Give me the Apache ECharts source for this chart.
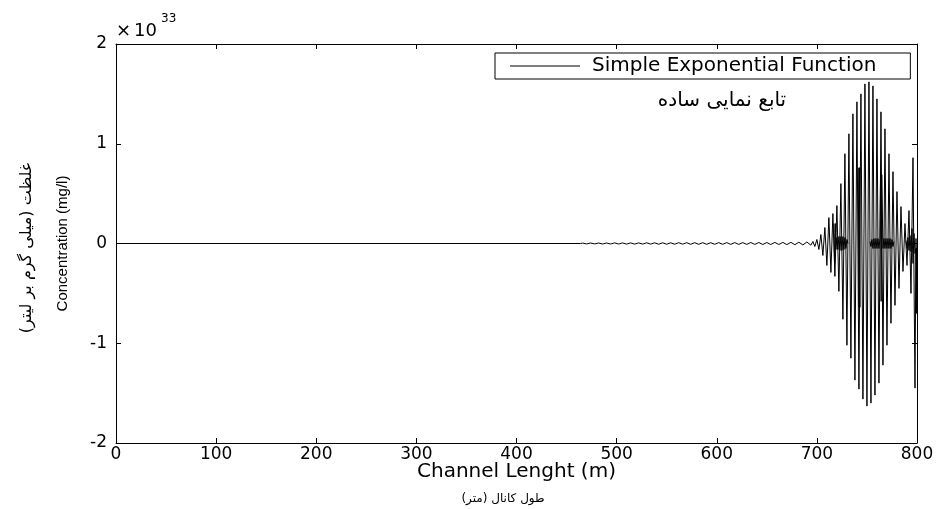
<!DOCTYPE html>
<html>
<head>
<meta charset="utf-8">
<script src="https://cdn.jsdelivr.net/npm/echarts@6/dist/echarts.min.js"></script>
<style>html,body{margin:0;padding:0;background:#fff}#c{width:937px;height:509px}</style>
</head>
<body>
<div id="c"></div>
<script>
// ---- data (concentration in units of 1e33 mg/l, channel length in m) ----
const seriesName = 'Simple Exponential Function';
const xTickValues = [0, 100, 200, 300, 400, 500, 600, 700, 800];
const yTickValues = [-2, -1, 0, 1, 2];

const flatX = [0, 464];
const flatY = [0, 0];

const rippleX = [466,470,474,478,482,486,490,494,498,502,506,510,514,518,522,526,530,534,538,542,546,550,554,558,562,566,570,574,578,582,586,590,594,598,602,606,610,614,618,622,626,630,634,638,642,646,650,654,658,662,666,670,674,678,682,686,690,694];
const rippleY = [0.004,-0.004,0.005,-0.004,0.005,-0.005,0.005,-0.005,0.006,-0.005,
  0.006,-0.006,0.006,-0.006,0.006,-0.006,0.007,-0.006,0.007,-0.007,
  0.007,-0.007,0.007,-0.007,0.008,-0.007,0.008,-0.008,0.008,-0.008,
  0.008,-0.008,0.008,-0.008,0.009,-0.008,0.009,-0.009,0.009,-0.009,
  0.009,-0.009,0.010,-0.009,0.010,-0.010,0.010,-0.010,0.011,-0.010,
  0.011,-0.011,0.012,-0.012,0.013,-0.014,0.015,-0.017];

const burstX = [696,698,700,702,704,706,708,710,712,714,716,718,720,722,724,726,728,730,732,734,736,738,740,742,744,746,748,750,752,754,756,758,760,762,764,766,768,770,772,774,776,778,780,782,784,786,788,790,792,794,796,798,799,800];
const burstY = [0.02,-0.03,0.04,-0.06,0.09,-0.12,0.16,-0.22,0.26,-0.29,
  0.30,-0.33,0.38,-0.48,0.60,-0.76,0.90,-1.02,1.10,-1.15,
  1.30,-1.37,1.42,-1.46,1.50,-1.56,1.60,-1.63,1.62,-1.60,
  1.58,-1.52,1.45,-1.40,1.32,-1.22,1.15,-1.02,0.90,-0.80,
  0.72,-0.62,0.52,-0.45,0.37,-0.28,0.20,-0.22,0.33,-0.50,
  0.86,-1.45,0.05,-0.70];

// dense near-zero oscillation bands and dark bars inside the burst ('-' = gap)
const bandX = [717,717.7,718.4,719,720,721,722,723,724,725,726,727,728,729,730,731,732,
  741.4,742,742.6,743.2,744,
  753,754,755,756,757,758,759,760,761,762,763,763.6,764.2,764.8,766,767,768,769,770,771,772,773,774,775,776,777,778,
  789,790,791,792,793,794,795,796,797,798,799,799.3,799.6,799.9];
const bandY = [0.2,-0.2,0.2,-0.06,0.06,-0.06,0.07,-0.07,0.07,-0.07,0.07,-0.06,0.06,-0.05,0.04,0,'-',
  0.76,-0.64,0.76,-0.64,'-',
  0.02,-0.03,0.04,-0.05,0.05,-0.05,0.05,-0.05,0.05,-0.05,0.05,0.69,-0.58,0.69,-0.05,0.05,-0.05,0.05,-0.05,0.05,-0.05,0.05,-0.05,0.04,-0.03,0.02,'-',
  0.03,-0.05,0.06,-0.07,0.08,-0.08,0.15,-0.2,0.1,-0.1,-0.05,-0.7,-0.05,-0.7];

const lengthM = flatX.concat(rippleX, burstX);
const concentration = flatY.concat(rippleY, burstY);
const points = lengthM.map((x, i) => [x, concentration[i]]);
const bandPoints = bandX.map((x, i) => [x, bandY[i]]);

const chart = echarts.init(document.getElementById('c'), null, {renderer: 'canvas'});
const black = '#000';
const latin = 'DejaVu Sans';
const RLM = '\u200F';

function xAxisDef(pos, labels) {
  return {
    type: 'value', position: pos, min: xTickValues[0], max: xTickValues[xTickValues.length - 1],
    interval: xTickValues[1] - xTickValues[0],
    axisLine: {show: true, onZero: false, lineStyle: {color: black, width: 1}},
    axisTick: {show: true, inside: true, length: 5, lineStyle: {color: black}},
    axisLabel: {show: labels, color: black, fontSize: 17, fontFamily: latin, margin: 3},
    splitLine: {show: false}
  };
}
function yAxisDef(pos, labels) {
  return {
    type: 'value', position: pos, min: yTickValues[0], max: yTickValues[yTickValues.length - 1],
    interval: yTickValues[1] - yTickValues[0],
    axisLine: {show: true, onZero: false, lineStyle: {color: black, width: 1}},
    axisTick: {show: true, inside: true, length: 5, lineStyle: {color: black}},
    axisLabel: {show: labels, color: black, fontSize: 17, fontFamily: latin, margin: 9},
    splitLine: {show: false}
  };
}

const xBottom = Object.assign(xAxisDef('bottom', true), {
  name: 'Channel Lenght (m)', nameLocation: 'middle', nameGap: 19, nameMoveOverlap: false,
  nameTextStyle: {color: black, fontSize: 20, fontFamily: latin}
});
const yLeft = Object.assign(yAxisDef('left', true), {
  name: 'Concentration (mg/l)', nameLocation: 'middle', nameRotate: 90, nameGap: 46,
  nameTextStyle: {color: black, fontSize: 15, fontFamily: 'Liberation Sans Narrow, Liberation Sans'}
});

chart.setOption({
  animation: false,
  backgroundColor: '#fff',
  grid: {left: 116, right: 20, top: 44, bottom: 66},
  legend: {
    show: true, left: 495, top: 53, selectedMode: false,
    padding: [3, 34, 3, 15], backgroundColor: '#fff',
    borderColor: black, borderWidth: 1, borderRadius: 0,
    itemWidth: 70, itemHeight: 1, icon: 'rect',
    data: [seriesName],
    textStyle: {color: black, fontSize: 20, fontFamily: latin, padding: [0, 0, 0, 7]}
  },
  xAxis: [xBottom, xAxisDef('top', false)],
  yAxis: [yLeft, yAxisDef('right', false)],
  graphic: [
    {type: 'text', left: 116, top: 22, style: {text: '×', font: '18px DejaVu Sans', fill: black}},
    {type: 'text', left: 134, top: 22, style: {text: '10', font: '18px DejaVu Sans', fill: black}},
    {type: 'text', left: 161, top: 13, style: {text: '33', font: '12px DejaVu Sans', fill: black}},
    {type: 'text', x: 722, y: 101, style: {text: RLM + 'تابع نمایی ساده' + RLM, font: '20px DejaVu Sans', fill: black, align: 'center', verticalAlign: 'middle'}},
    {type: 'text', x: 503, y: 499, style: {text: RLM + 'طول کانال (متر)' + RLM, font: '12px DejaVu Sans', fill: black, align: 'center', verticalAlign: 'middle'}},
    {type: 'text', x: 27, y: 248, rotation: Math.PI / 2, style: {text: RLM + 'غلظت (میلی گرم بر لیتر)' + RLM, font: '16px DejaVu Sans', fill: black, align: 'center', verticalAlign: 'middle'}}
  ],
  series: [{
    type: 'line', name: seriesName, data: points,
    xAxisIndex: 0, yAxisIndex: 0,
    showSymbol: false, symbol: 'none',
    lineStyle: {color: black, width: 1}, itemStyle: {color: black}
  }, {
    type: 'line', name: seriesName, data: bandPoints,
    xAxisIndex: 0, yAxisIndex: 0, connectNulls: false,
    showSymbol: false, symbol: 'none',
    lineStyle: {color: black, width: 1}, itemStyle: {color: black}
  }]
});
</script>
</body>
</html>
